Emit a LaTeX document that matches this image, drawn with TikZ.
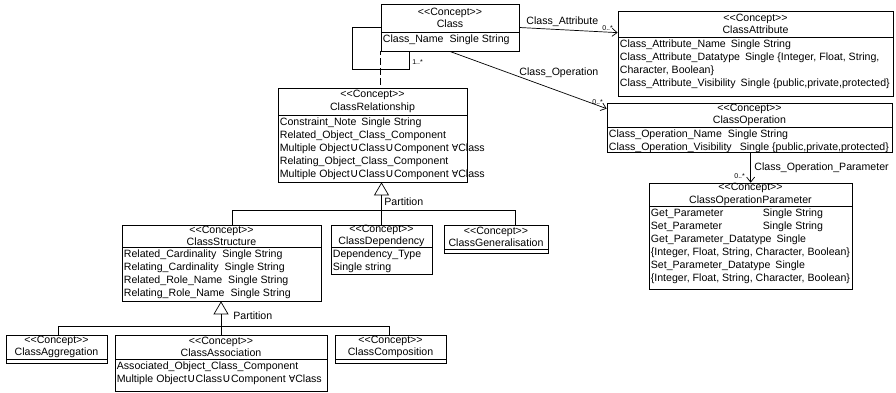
\documentclass[tikz,border=0pt]{standalone}
\usepackage{fontspec}
\setmainfont{Liberation Sans}[Ligatures=TeXOff]
\newfontfamily\symf{DejaVu Sans}
\usetikzlibrary{arrows.meta,fit,calc}
\newcommand\cc{<{}<Concept>{}>}
\newcommand\ucup{{\symf\fontsize{12}{12}\selectfont ∪}}
\newcommand\fa{{\symf\fontsize{9.5}{12}\selectfont ∀}}
\newcommand\umlcls[8]{%
  \node[box, fit={(#2,#3) (#4,#6)}] (#1) {};
  \draw (#2,#5) -- (#4,#5);
  \node[hdr] (#1-h) at ({(#2+#4)/2},{(#3+#5)/2}) {\cc\\#7};
  \if\relax\detokenize{#8}\relax\else
  \node[att] (#1-a) at (#2,#5) {#8};\fi
}
\begin{document}
\begin{tikzpicture}[x=1pt,y=-1pt, line width=0.7pt,
  box/.style={draw, fill=white, inner sep=0pt},
  hdr/.style={inner sep=0pt, align=center, font=\fontsize{10.6}{12.5}\selectfont},
  att/.style={anchor=north west, inner xsep=1.5pt, inner ysep=2.6pt, align=left, font=\fontsize{10.6}{13}\selectfont},
  lbl/.style={inner sep=0pt, anchor=west, font=\fontsize{10.6}{12}\selectfont},
  mult/.style={inner sep=0pt, anchor=west, font=\fontsize{7}{8}\selectfont},
  open/.style={-{Straight Barb[length=5pt,width=8pt]}},
  gentip/.style={-{Triangle[open,length=13pt,width=15pt]}},
  assocdash/.style={line width=1.5pt, dash pattern=on 7pt off 3pt, dash phase=3pt},
]
\useasboundingbox (0,0) rectangle (896,393);

\umlcls{cls}{381}{4}{519}{32}{51}{Class}{Class\_Name\hspace{6pt}Single String}
\umlcls{attr}{618}{11}{893}{37}{96}{ClassAttribute}{Class\_Attribute\_Name\hspace{5pt}Single String\\
Class\_Attribute\_Datatype\hspace{5pt}Single \{Integer, Float, String,\\
Character, Boolean\}\\
Class\_Attribute\_Visibility\hspace{5pt}Single \{public,private,protected\}}
\umlcls{oper}{607}{103}{892}{127}{152}{ClassOperation}{Class\_Operation\_Name\hspace{6pt}Single String\\
Class\_Operation\_Visibility\hspace{8pt}Single \{public,private,protected\}}
\umlcls{param}{649}{183}{852}{206}{289}{ClassOperationParameter}{\makebox[112pt][l]{Get\_Parameter}Single String\\
\makebox[112pt][l]{Set\_Parameter}Single String\\
Get\_Parameter\_Datatype\hspace{5pt}Single\\
\{Integer, Float, String, Character, Boolean\}\\
Set\_Parameter\_Datatype\hspace{5pt}Single\\
\{Integer, Float, String, Character, Boolean\}}
\umlcls{rel}{278}{88}{467}{115}{182}{ClassRelationship}{Constraint\_Note\hspace{5pt}Single String\\
Related\_Object\_Class\_Component\\
Multiple Object\ucup Class\ucup Component \fa Class\\
Relating\_Object\_Class\_Component\\
Multiple Object\ucup Class\ucup Component \fa Class}
\umlcls{struct}{122}{225}{321}{247}{301}{ClassStructure}{Related\_Cardinality\hspace{6pt}Single String\\
Relating\_Cardinality\hspace{6pt}Single String\\
Related\_Role\_Name\hspace{6pt}Single String\\
Relating\_Role\_Name\hspace{6pt}Single String}
\umlcls{dep}{331}{225}{432}{247}{274}{ClassDependency}{Dependency\_Type\\Single string}
\umlcls{gen}{444}{225}{548}{249}{253}{ClassGeneralisation}{}
\umlcls{aggr}{6}{335}{107}{359}{363}{ClassAggregation}{}
\umlcls{assoc}{115}{335}{327}{359}{391}{ClassAssociation}{Associated\_Object\_Class\_Component\\
Multiple Object\ucup Class\ucup Component \fa Class}
\umlcls{comp}{335}{335}{446}{359}{363}{ClassComposition}{}

% self association on Class
\coordinate (loopc) at (409,69);
\draw (cls.west) -- ++(-28,0) |- (loopc) -- (loopc |- cls.south);
\draw[assocdash] (cls.south west) -- (cls.south west |- rel.north);
\node[mult] (m3) at (412,62) {1..*};

% associations
\draw[open] (cls.east) -- ($(attr.north west)+(0,22)$);
\node[lbl] (lca) at (526,22) {Class\_Attribute};
\node[mult] (m1) at (602,28) {0..*};
\draw[open] ($(cls.south west)+(69,0)$) -- ($(oper.north west)+(0,6)$);
\node[lbl] (lco) at (519,73) {Class\_Operation};
\node[mult] (m2) at (592,102) {0..*};
\draw[open] ($(oper.south west)+(144,0)$) -- ($(param.north west)+(102,0)$);
\node[lbl] (lcop) at (754,168) {Class\_Operation\_Parameter};
\node[mult] (m4) at (734,176) {0..*};

% partition 1
\coordinate (g1L) at (232,210);
\coordinate (g1R) at (515,210);
\draw[gentip] (dep.north) -- (dep.north |- rel.south);
\draw (g1L) -- (g1R);
\draw (g1L) -- (g1L |- struct.north);
\draw (g1R) -- (g1R |- gen.north);
\node[lbl] (p1) at (384,202) {Partition};

% partition 2
\coordinate (g2L) at (58,326);
\coordinate (g2R) at (389,326);
\draw[gentip] (assoc.north) -- (assoc.north |- struct.south);
\draw (g2L) -- (g2R);
\draw (g2L) -- (g2L |- aggr.north);
\draw (g2R) -- (g2R |- comp.north);
\node[lbl] (p2) at (233,316) {Partition};
\end{tikzpicture}
\end{document}
